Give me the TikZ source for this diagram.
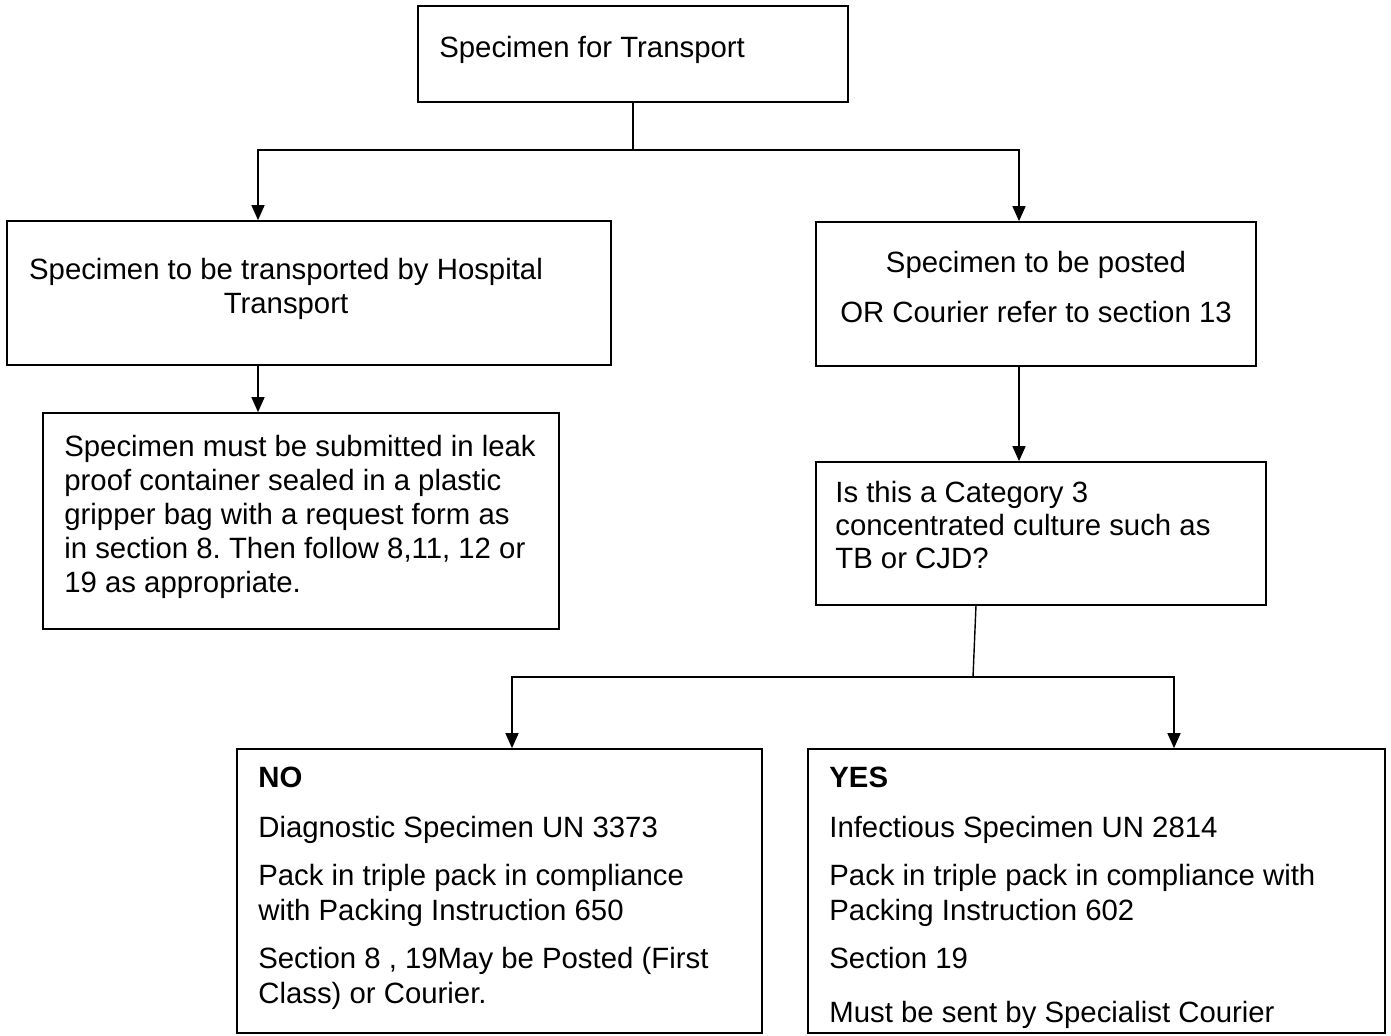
\documentclass[tikz,border=0pt]{standalone}
\usepackage{fontspec}
\setmainfont{Liberation Sans}
\usetikzlibrary{arrows.meta}
\frenchspacing

\begin{document}
\begin{tikzpicture}[x=0.02cm,y=-0.02cm,
  box/.style={draw,line width=1pt,inner sep=0pt},
  txt/.style={inner sep=0pt,anchor=base west,font=\fontsize{16.7}{19}\selectfont},
  ctxt/.style={txt,anchor=base},
  link/.style={line width=0.8pt},
  arr/.style={link,-{Triangle[length=0.3cm,width=0.26cm]}}]

\useasboundingbox (0,0) rectangle (1391,1035);

% the boxes
\node (top) [box,minimum width=8.6cm,minimum height=1.92cm] at (633,54) {};
\node (hosp) [box,minimum width=12.08cm,minimum height=2.88cm] at (309,293) {};
\node (post) [box,minimum width=8.8cm,minimum height=2.88cm] at (1036,294) {};
\node (leak) [box,minimum width=10.32cm,minimum height=4.32cm] at (301,521) {};
\node (cat) [box,minimum width=9.0cm,minimum height=2.86cm] at (1041,533.5) {};
\node (no) [box,minimum width=10.5cm,minimum height=5.68cm] at (499.5,891) {};
\node (yes) [box,minimum width=11.54cm,minimum height=5.68cm] at (1096.5,891) {};

% texts
\node (t-top) [txt] at (439,57) {Specimen for Transport};

\node (t-hosp1) [ctxt] at (286,279) {Specimen to be transported by Hospital};
\node (t-hosp2) [ctxt] at (286,313) {Transport};

\node (t-post1) [ctxt] at (1036,272) {Specimen to be posted};
\node (t-post2) [ctxt] at (1036,322) {OR Courier refer to section 13};

\node (t-leak1) [txt] at (64,456) {Specimen must be submitted in leak};
\node (t-leak2) [txt] at (64,490) {proof container sealed in a plastic};
\node (t-leak3) [txt] at (64,524) {gripper bag with a request form as};
\node (t-leak4) [txt] at (64,558) {in section 8. Then follow 8,11, 12 or};
\node (t-leak5) [txt] at (64,592) {19 as appropriate.};

\node (t-cat1) [txt] at (835,502) {Is this a Category 3};
\node (t-cat2) [txt] at (835,535) {concentrated culture such as};
\node (t-cat3) [txt] at (835,568) {TB or CJD?};

\node (t-no1) [txt] at (258,787) {\textbf{NO}};
\node (t-no2) [txt] at (258,837) {Diagnostic Specimen UN 3373};
\node (t-no3) [txt] at (258,885) {Pack in triple pack in compliance};
\node (t-no4) [txt] at (258,920) {with Packing Instruction 650};
\node (t-no5) [txt] at (258,968) {Section 8 , 19May be Posted (First};
\node (t-no6) [txt] at (258,1003) {Class) or Courier.};

\node (t-yes1) [txt] at (829,787) {\textbf{YES}};
\node (t-yes2) [txt] at (829,837) {Infectious Specimen UN 2814};
\node (t-yes3) [txt] at (829,885) {Pack in triple pack in compliance with};
\node (t-yes4) [txt] at (829,920) {Packing Instruction 602};
\node (t-yes5) [txt] at (829,968) {Section 19};
\node (t-yes6) [txt] at (829,1022) {Must be sent by Specialist Courier};

% connectors
\coordinate (split) at (633,150);
\coordinate (hl) at (258,150);
\coordinate (hr) at (1019,150);
\draw [link] (top.south) -- (split);
\draw [arr] (split) -- (hl) -- (hl |- hosp.north);
\draw [arr] (split) -- (hr) -- (hr |- post.north);
\draw [arr] (hl |- hosp.south) -- (hl |- leak.north);
\draw [arr] (hr |- post.south) -- (hr |- cat.north);

\coordinate (catout) at (976,605);
\coordinate (split2) at (973,677);
\coordinate (nl) at (512,677);
\coordinate (nr) at (1174,677);
\draw [link] (catout) -- (split2);
\draw [arr] (split2) -- (nl) -- (nl |- no.north);
\draw [arr] (split2) -- (nr) -- (nr |- yes.north);

\end{tikzpicture}
\end{document}
